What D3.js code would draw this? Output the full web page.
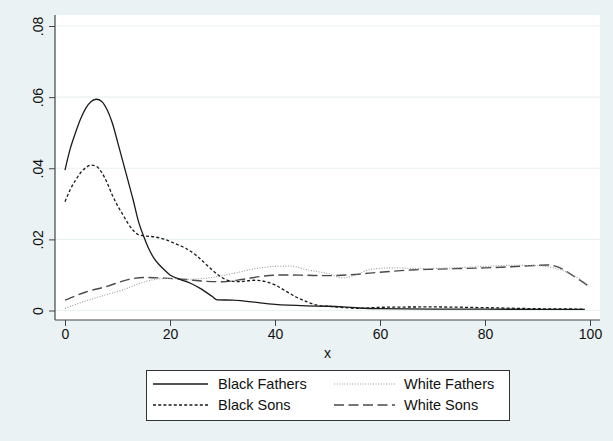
<!DOCTYPE html>
<html><head><meta charset="utf-8">
<script src="https://cdn.jsdelivr.net/npm/d3@7"></script>
<style>
html,body{margin:0;padding:0;background:#eaf2f3;}
text{font-family:"Liberation Sans",Arial,sans-serif;fill:#111;}
</style></head>
<body>
<script>
// ---- data ----
const xTicks = [0, 20, 40, 60, 80, 100];
const yTicks = [0, 0.02, 0.04, 0.06, 0.08];
const yTickLabels = ["0", ".02", ".04", ".06", ".08"];
const xTitle = "x";

const blackFathersX = [0,1,2,3,4,5,6,7,8,9,10,11,12,13,14,15,16,17,18,19,20,22,24,26,28,29,32,35,40,46,50,53,56,60,70,80,90,99];
const blackFathersY = [0.0395,0.0455,0.0500,0.0540,0.0570,0.0588,0.0594,0.0588,0.0565,0.0528,0.0475,0.0420,0.0365,0.0310,0.0250,0.0208,0.0172,0.0146,0.0128,0.0113,0.0100,0.0087,0.0076,0.0060,0.0040,0.0030,0.0029,0.0025,0.0017,0.0013,0.0012,0.0010,0.0007,0.0005,0.0004,0.0004,0.0003,0.0003];

const blackSonsX = [0,1,2,3,4,5,6,7,8,9,10,11,12,13,14,15,17,19,21,23,25,27,29,31,33,36,38,40,42,44,46,48,51,56,60,70,80,90,99];
const blackSonsY = [0.0306,0.0340,0.0366,0.0388,0.0402,0.0409,0.0405,0.0388,0.0360,0.0325,0.0295,0.0270,0.0245,0.0225,0.0213,0.0210,0.0207,0.0200,0.0188,0.0175,0.0155,0.0128,0.0102,0.0085,0.0081,0.0085,0.0082,0.0072,0.0055,0.0038,0.0025,0.0015,0.0011,0.0006,0.0009,0.0010,0.0008,0.0005,0.0004];

const whiteFathersX = [0,4,8,11,15,19,24,28,32,36,40,43,46,50,53,55,58,62,68,74,80,85,90,93,96,100];
const whiteFathersY = [0.0006,0.0027,0.0045,0.0058,0.0080,0.0090,0.0088,0.0093,0.0104,0.0117,0.0124,0.0125,0.0115,0.0104,0.0092,0.0098,0.0115,0.0120,0.0118,0.0120,0.0124,0.0127,0.0126,0.0120,0.0105,0.0068];

const whiteSonsX = [0,4,8,12,15,19,23,27,30,34,38,42,46,50,54,58,62,66,70,75,80,85,90,92,94,96,98,100];
const whiteSonsY = [0.0029,0.0052,0.0068,0.0087,0.0093,0.0091,0.0087,0.0082,0.0081,0.0088,0.0097,0.0100,0.0099,0.0098,0.0100,0.0105,0.0110,0.0114,0.0116,0.0118,0.0120,0.0123,0.0127,0.0128,0.0122,0.0105,0.0086,0.0066];

const seriesNames = ["Black Fathers", "Black Sons", "White Fathers", "White Sons"];

// ---- layout ----
const W = 613, H = 441;
const region = {x0: 55, x1: 600, y0: 15, y1: 320};
const svg = d3.select("body").append("svg").attr("width", W).attr("height", H);
svg.append("rect").attr("width", W).attr("height", H).attr("fill", "#eaf2f3");
svg.append("rect").attr("x", region.x0).attr("y", region.y0)
  .attr("width", region.x1 - region.x0).attr("height", region.y1 - region.y0).attr("fill", "#ffffff");

const x = d3.scaleLinear().domain([0, 100]).range([65, 590]);
const y = d3.scaleLinear().domain([0, 0.08]).range([310.5, 26]);

// gridlines
svg.append("g").selectAll("line").data(yTicks).join("line")
  .attr("x1", region.x0).attr("x2", region.x1)
  .attr("y1", d => y(d)).attr("y2", d => y(d))
  .attr("stroke", "#eaf2f3").attr("stroke-width", 1.2);

const styles = [
  {stroke: "#1a1a1a", dash: null, width: 1.3},
  {stroke: "#1a1a1a", dash: "3,2.2", width: 1.3},
  {stroke: "#9a9a9a", dash: "1,1.6", width: 1.1},
  {stroke: "#4a4a4a", dash: "10,4.5", width: 1.4}
];
const xs = [blackFathersX, blackSonsX, whiteFathersX, whiteSonsX];
const ys = [blackFathersY, blackSonsY, whiteFathersY, whiteSonsY];

const line = d3.line().x(d => x(d[0])).y(d => y(d[1])).curve(d3.curveMonotoneX);
[3, 2, 1, 0].forEach(i => {
  const pts = xs[i].map((v, k) => [v, ys[i][k]]);
  svg.append("path").datum(pts).attr("d", line)
    .attr("fill", "none").attr("stroke", styles[i].stroke)
    .attr("stroke-width", styles[i].width)
    .attr("stroke-dasharray", styles[i].dash);
});

// axes
const yAxis = d3.axisLeft(y).tickValues(yTicks).tickSize(6).tickSizeOuter(0)
  .tickFormat((d, i) => yTickLabels[i]);
const gy = svg.append("g").attr("transform", `translate(${region.x0},0)`).call(yAxis);
gy.select(".domain").remove();
gy.selectAll(".tick line").attr("stroke", "#444");
gy.selectAll(".tick text")
  .attr("transform", "rotate(-90)")
  .attr("x", 0).attr("y", -12).attr("dy", null)
  .attr("text-anchor", "middle")
  .style("font-size", "14px").style("font-family", "Liberation Sans, Arial, sans-serif").attr("fill", "#111");
svg.append("line").attr("x1", region.x0).attr("x2", region.x0)
  .attr("y1", region.y0).attr("y2", region.y1).attr("stroke", "#444").attr("stroke-width", 1.2);

const xAxis = d3.axisBottom(x).tickValues(xTicks).tickSize(6).tickSizeOuter(0);
const gx = svg.append("g").attr("transform", `translate(0,${region.y1})`).call(xAxis);
gx.select(".domain").remove();
gx.selectAll(".tick line").attr("stroke", "#444");
gx.selectAll(".tick text").attr("y", 9).attr("dy", "0.71em")
  .style("font-size", "14px").style("font-family", "Liberation Sans, Arial, sans-serif").attr("fill", "#111");
svg.append("line").attr("x1", region.x0).attr("x2", region.x1)
  .attr("y1", region.y1).attr("y2", region.y1).attr("stroke", "#444").attr("stroke-width", 1.2);

svg.append("text").attr("x", (x(0) + x(100)) / 2).attr("y", 358)
  .attr("text-anchor", "middle").style("font-size", "14px").text(xTitle);

// legend
const lg = svg.append("g");
lg.append("rect").attr("x", 146.5).attr("y", 370.5).attr("width", 363).attr("height", 50)
  .attr("fill", "#fff").attr("stroke", "#333").attr("stroke-width", 1);
const legPos = [
  {lx1: 153, lx2: 208, tx: 218, y: 384},
  {lx1: 153, lx2: 208, tx: 218, y: 405},
  {lx1: 334, lx2: 395, tx: 404, y: 384},
  {lx1: 334, lx2: 395, tx: 404, y: 405}
];
seriesNames.forEach((name, i) => {
  const p = legPos[i];
  lg.append("line").attr("x1", p.lx1).attr("x2", p.lx2).attr("y1", p.y).attr("y2", p.y)
    .attr("stroke", styles[i].stroke).attr("stroke-width", styles[i].width)
    .attr("stroke-dasharray", styles[i].dash);
  lg.append("text").attr("x", p.tx).attr("y", p.y).attr("dy", "0.35em")
    .style("font-size", "14.5px").text(name);
});
</script>
</body></html>
